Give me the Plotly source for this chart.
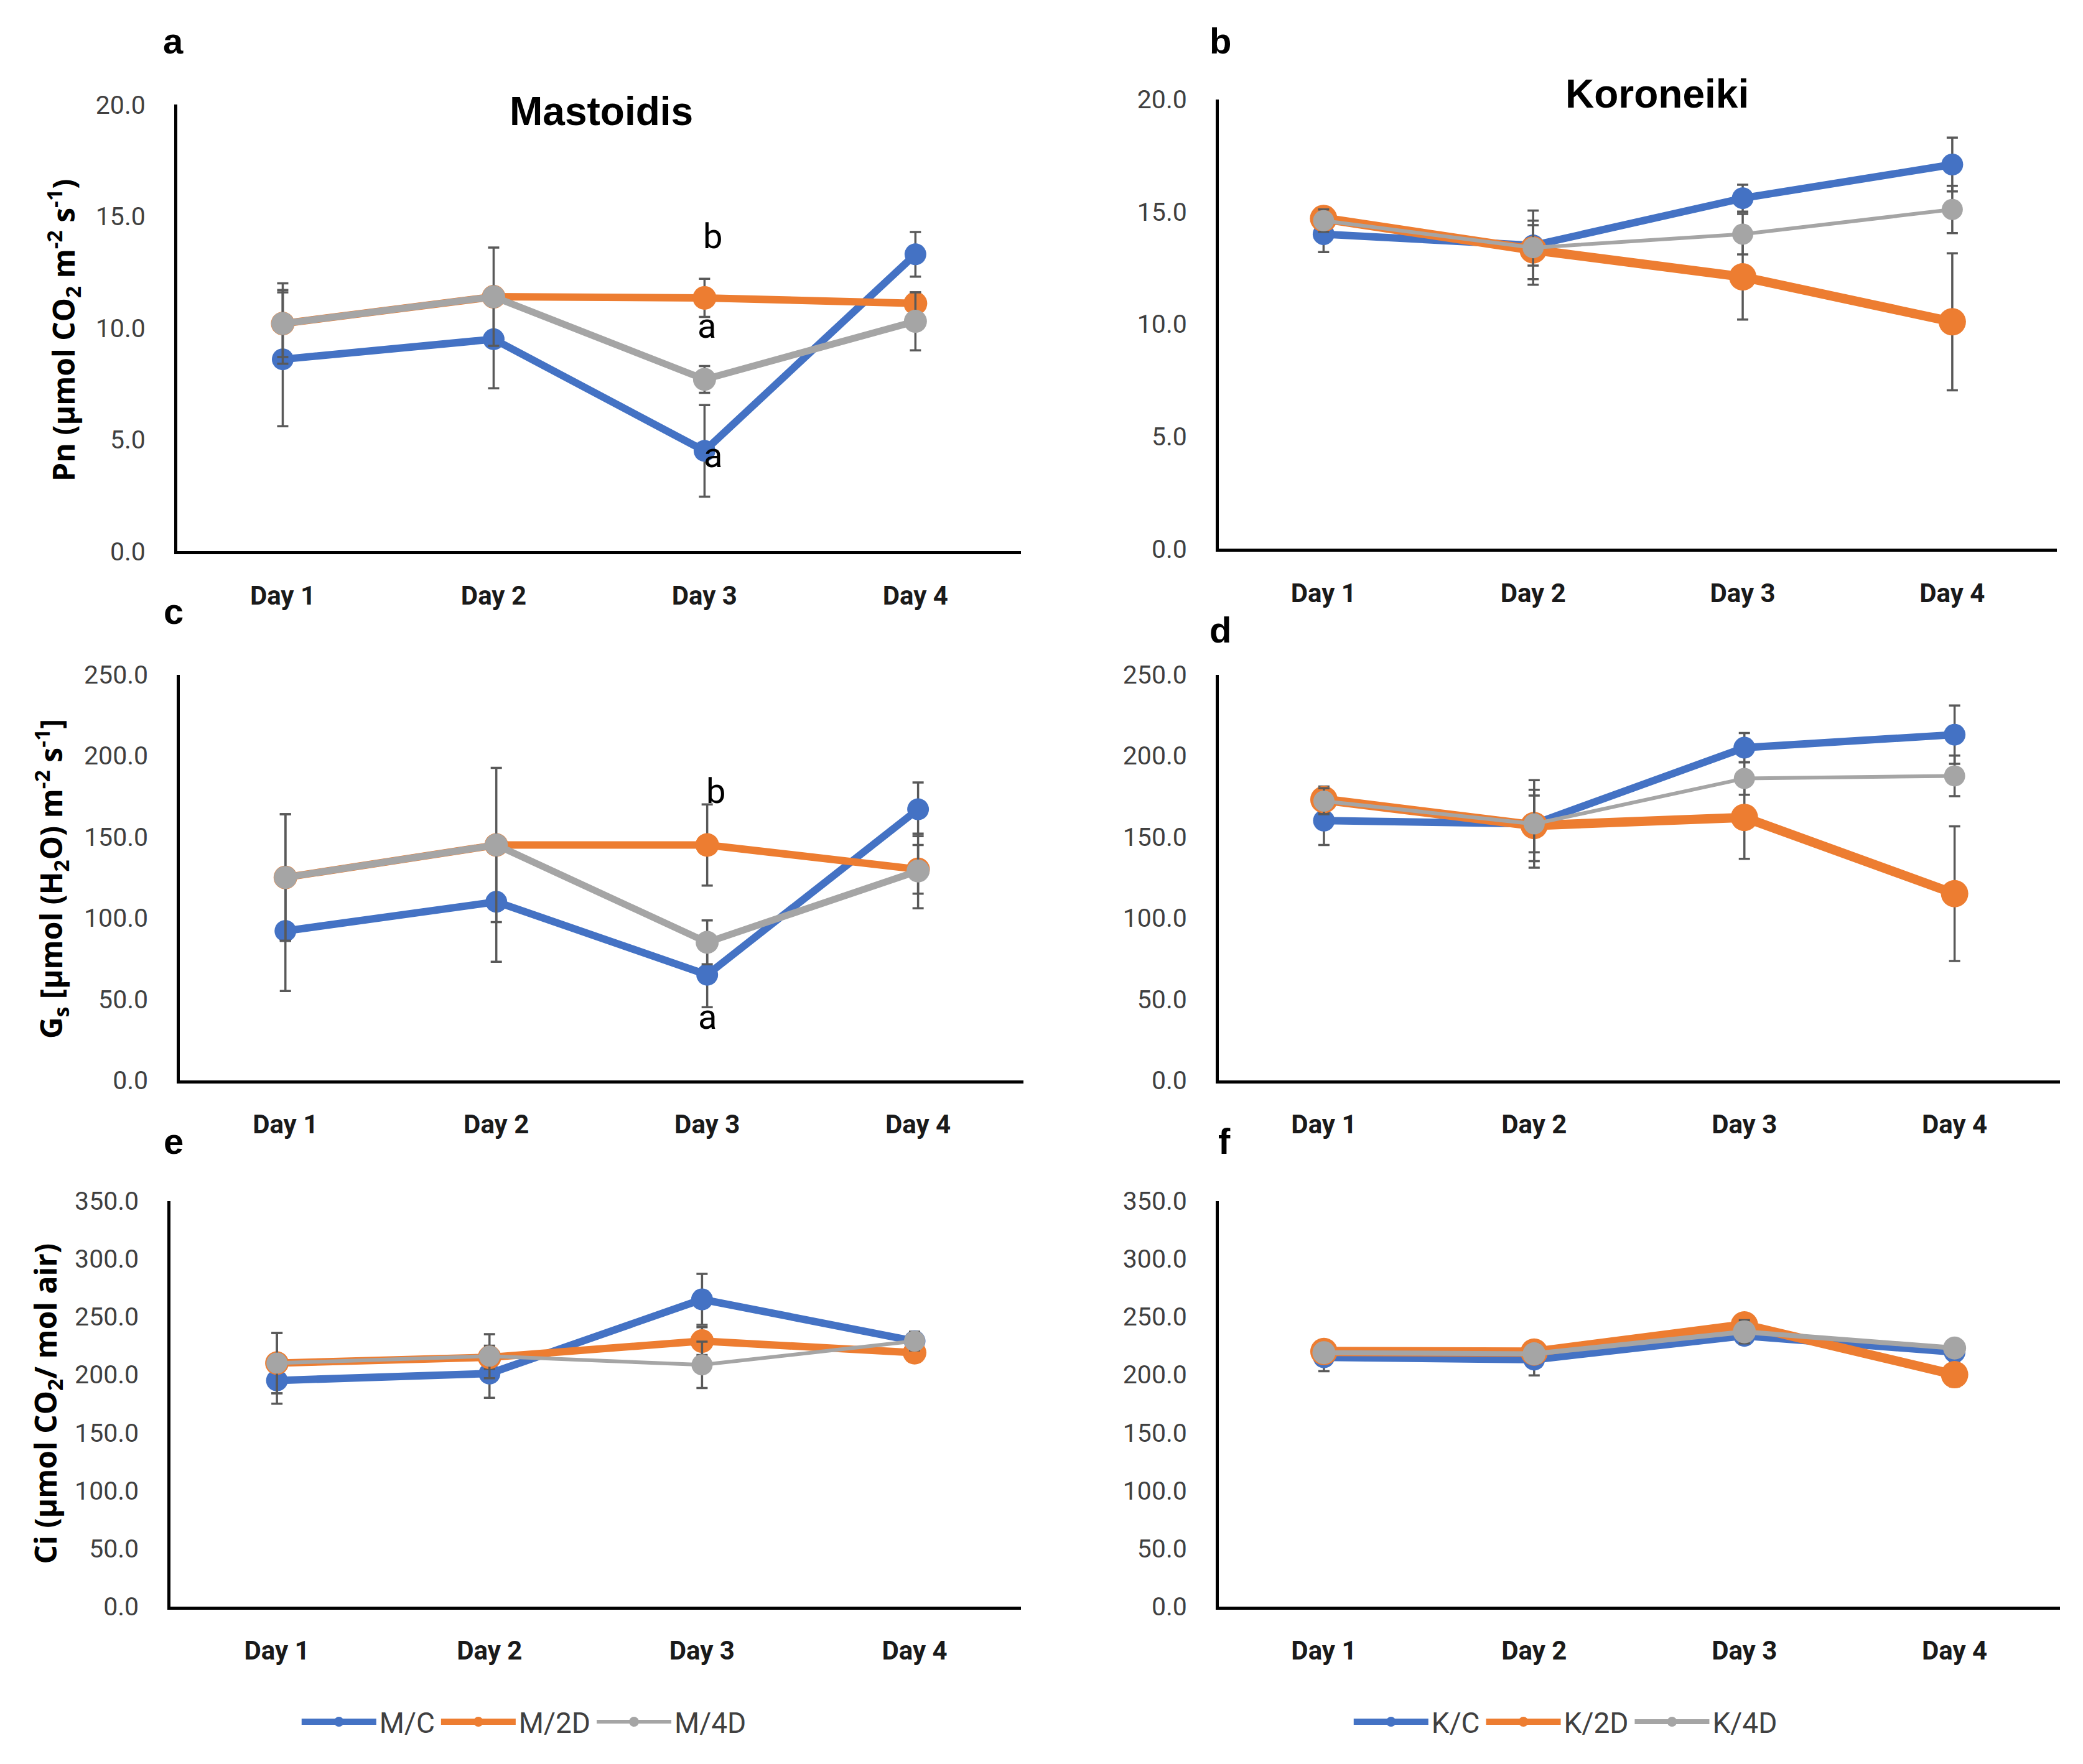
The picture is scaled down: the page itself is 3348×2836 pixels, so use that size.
import plotly.graph_objects as go

W, H = 3348, 2836
S = 3348 / 1568.0  # reference measured in 1568-wide view


def PX(d):
    return (d * S - 7) / W


def PY(d):
    return 1 - ((d * S - 30) / 0.985) / H


days = ["Day 1", "Day 2", "Day 3", "Day 4"]

# Panel a: Pn Mastoidis
pn_M_C = [8.6, 9.5, 4.5, 13.3]
pn_M_C_err = [3.0, 2.2, 2.05, 1.0]
pn_M_2D = [10.2, 11.4, 11.35, 11.1]
pn_M_2D_err = [1.5, 0.3, 0.85, 0.5]
pn_M_4D = [10.2, 11.4, 7.7, 10.3]
pn_M_4D_err = [1.8, 2.2, 0.6, 1.3]

# Panel b: Pn Koroneiki
pn_K_C = [14.0, 13.5, 15.6, 17.1]
pn_K_C_err = [0.8, 0.9, 0.6, 1.2]
pn_K_2D = [14.7, 13.3, 12.1, 10.1]
pn_K_2D_err = [0.5, 1.3, 1.9, 3.05]
pn_K_4D = [14.6, 13.4, 14.0, 15.1]
pn_K_4D_err = [0.5, 1.65, 0.9, 1.05]

# Panel c: Gs Mastoidis
gs_M_C = [92, 110, 65, 167]
gs_M_C_err = [37, 37, 20, 16.5]
gs_M_2D = [125, 145, 145, 130]
gs_M_2D_err = [39, 5, 25, 15]
gs_M_4D = [125, 145, 85, 129]
gs_M_4D_err = [39, 47.5, 13.5, 23]

# Panel d: Gs Koroneiki
gs_K_C = [160, 158, 205, 213]
gs_K_C_err = [15, 17.5, 9, 18]
gs_K_2D = [173, 157, 162, 115]
gs_K_2D_err = [8, 22, 25.5, 41.5]
gs_K_4D = [172, 158, 186, 187.6]
gs_K_4D_err = [8, 27, 10, 12.5]

# Panel e: Ci Mastoidis
ci_M_C = [195, 201, 265, 229]
ci_M_C_err = [20, 21, 22, 8]
ci_M_2D = [210, 215, 229, 219]
ci_M_2D_err = [26, 10, 12, 5]
ci_M_4D = [210, 216, 208.5, 229]
ci_M_4D_err = [26, 19, 20, 8]

# Panel f: Ci Koroneiki
ci_K_C = [215, 213, 233.5, 219.5]
ci_K_C_err = [12, 13.6, 7, 8]
ci_K_2D = [220, 219.5, 243, 200]
ci_K_2D_err = [5, 8, 5, 10]
ci_K_4D = [219, 218, 237, 223]
ci_K_4D_err = [5, 8, 10, 7]

yranges = {"a": (0, 20, 5), "b": (0, 20, 5), "c": (0, 250, 50),
           "d": (0, 250, 50), "e": (0, 350, 50), "f": (0, 350, 50)}

BLUE, ORANGE, GRAY = "#4472C4", "#ED7D31", "#A5A5A5"
ERR = "#595959"

# boxes in reference-view px (left, right, top, bottom)
boxes = {
    "a": (133, 768, 78, 415),
    "b": (917, 1548, 74, 413),
    "c": (135, 770, 508, 814),
    "d": (917, 1550, 508, 814),
    "e": (128, 768, 905, 1211),
    "f": (917, 1550, 905, 1211),
}

panels = [
    ("a", [("M/C", pn_M_C, pn_M_C_err), ("M/2D", pn_M_2D, pn_M_2D_err), ("M/4D", pn_M_4D, pn_M_4D_err)], 11),
    ("b", [("K/C", pn_K_C, pn_K_C_err), ("K/2D", pn_K_2D, pn_K_2D_err), ("K/4D", pn_K_4D, pn_K_4D_err)], 6),
    ("c", [("M/C", gs_M_C, gs_M_C_err), ("M/2D", gs_M_2D, gs_M_2D_err), ("M/4D", gs_M_4D, gs_M_4D_err)], 11),
    ("d", [("K/C", gs_K_C, gs_K_C_err), ("K/2D", gs_K_2D, gs_K_2D_err), ("K/4D", gs_K_4D, gs_K_4D_err)], 6),
    ("e", [("M/C", ci_M_C, ci_M_C_err), ("M/2D", ci_M_2D, ci_M_2D_err), ("M/4D", ci_M_4D, ci_M_4D_err)], 6),
    ("f", [("K/C", ci_K_C, ci_K_C_err), ("K/2D", ci_K_2D, ci_K_2D_err), ("K/4D", ci_K_4D, ci_K_4D_err)], 8),
]

fig = go.Figure()
TICKFONT = dict(family="Liberation Sans Narrow, Roboto, sans-serif", size=41, color="#404040")
DAYFONT = dict(family="Liberation Sans Narrow, Roboto, sans-serif", size=42, color="#1a1a1a")

layout = {}
for i, (key, series, graywidth) in enumerate(panels):
    n = i + 1
    xa = "x" if n == 1 else f"x{n}"
    ya = "y" if n == 1 else f"y{n}"
    l, r, t, b = boxes[key]
    colors = [BLUE, ORANGE, GRAY]
    right = key in ("b", "d", "f")
    widths = [12, 15 if right else 12, graywidth]
    sizes = [35, 44 if right else 38, 37 if graywidth >= 8 else 34]
    for j, (name, vals, err) in enumerate(series):
        showleg = key in ("e", "f")
        legend = "legend2" if key == "f" else "legend"
        fig.add_trace(go.Scatter(
            x=days, y=vals, name=name, mode="lines+markers",
            line=dict(color=colors[j], width=widths[j]),
            marker=dict(color=colors[j], size=sizes[j]),
            error_y=dict(type="data", array=err, visible=True, color=ERR, thickness=3.5, width=9),
            xaxis=xa, yaxis=ya, showlegend=showleg, legend=legend,
        ))
    y0, y1, dt = yranges[key]
    layout["xaxis" if n == 1 else f"xaxis{n}"] = dict(
        domain=[PX(l), PX(r)], anchor=ya, type="category", range=[-0.5, 3.5],
        showline=True, linecolor="black", linewidth=5, showgrid=False, zeroline=False,
        ticks="outside", ticklen=30, tickcolor="rgba(0,0,0,0)",
        tickfont=DAYFONT, tickprefix="<b>", ticksuffix="</b>",
    )
    layout["yaxis" if n == 1 else f"yaxis{n}"] = dict(
        domain=[PY(b), PY(t)], anchor=xa, range=[y0, y1], dtick=dt,
        tickformat=".1f", showline=True, linecolor="black", linewidth=5,
        showgrid=False, zeroline=False, ticks="outside", ticklen=38,
        tickcolor="rgba(0,0,0,0)", tickfont=TICKFONT,
    )

fig.update_layout(**layout)

ann = []


def A(text, x, y, size, family="Liberation Sans, Roboto, sans-serif", angle=0, color="black"):
    ann.append(dict(text=text, x=PX(x), y=PY(y), xref="paper", yref="paper", showarrow=False,
                    xanchor="center", yanchor="middle", textangle=angle,
                    font=dict(family=family, size=size, color=color)))


# Panel letters
for k, (px, py) in {"a": (130, 30), "b": (918, 30), "c": (130, 460), "d": (918, 474),
                    "e": (130, 860), "f": (921, 860)}.items():
    A(f"<b>{k}</b>", px, py, 58)
# Titles
A("<b>Mastoidis</b>", 452, 83, 64)
A("<b>Koroneiki</b>", 1247, 70, 64)
# Y titles
YF = "Open Sans, DejaVu Sans, sans-serif"
A("<b>Pn (µmol CO<sub>2</sub> m<sup>-2</sup> s<sup>-1</sup>)</b>", 47, 248, 48, YF, -90)
A("<b>G<sub>s</sub> [µmol (H<sub>2</sub>O) m<sup>-2</sup> s<sup>-1</sup>]</b>", 38, 662, 48, YF, -90)
A("<b>Ci (µmol CO<sub>2</sub>/ mol air)</b>", 35, 1058, 48, YF, -90)

# Significance letters (data coordinates)
SIG = dict(family="Liberation Sans Narrow, Roboto, sans-serif", size=56, color="black")
for txt, x, y, xr, yr in [("b", 2.04, 14.1, "x", "y"), ("a", 2.01, 10.1, "x", "y"),
                          ("a", 2.04, 4.3, "x", "y"), ("b", 2.04, 178, "x3", "y3"),
                          ("a", 2.0, 39, "x3", "y3")]:
    ann.append(dict(text=txt, x=x, y=y, xref=xr, yref=yr, showarrow=False,
                    xanchor="center", yanchor="middle", font=SIG))

LEGFONT = dict(family="Liberation Sans Narrow, Roboto, sans-serif", size=46, color="#404040")
fig.update_layout(
    width=W, height=H, margin=dict(l=0, r=0, t=0, b=0),
    paper_bgcolor="white", plot_bgcolor="white",
    annotations=ann,
    legend=dict(orientation="h", x=PX(394), y=PY(1298), xanchor="center", yanchor="middle",
                font=LEGFONT, itemwidth=120, bgcolor="rgba(0,0,0,0)"),
    legend2=dict(orientation="h", x=PX(1178), y=PY(1298), xanchor="center", yanchor="middle",
                 font=LEGFONT, itemwidth=120, bgcolor="rgba(0,0,0,0)"),
)

fig.write_html("out.html")
